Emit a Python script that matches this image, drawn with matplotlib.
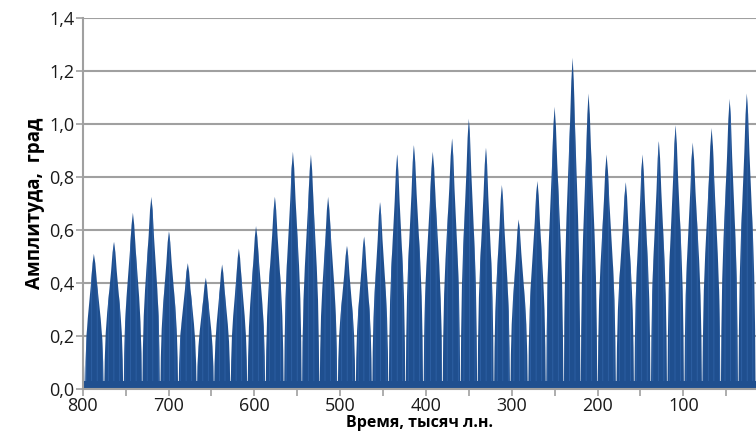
import numpy as np
import matplotlib
matplotlib.use('Agg')
from matplotlib import pyplot as plt
from matplotlib.ticker import MultipleLocator, FuncFormatter

# Peaks of the amplitude envelope (age in kyr BP, amplitude in deg)
peak_age = [808, 787, 763.5, 741.5, 720, 699.5, 677.5, 656.5, 637.5, 618, 598,
            576, 555, 534, 514, 492, 472, 453.5, 433.5, 414, 392, 369.5, 350,
            330, 311.5, 292, 270, 250, 229, 210.5, 189.5, 167, 147.5, 128.5,
            109, 89, 67, 46, 26, 5]
peak_amp = [0.40, 0.51, 0.555, 0.665, 0.725, 0.595, 0.475, 0.42, 0.47, 0.53, 0.615,
            0.725, 0.895, 0.885, 0.725, 0.54, 0.575, 0.705, 0.885, 0.92, 0.895,
            0.945, 1.02, 0.91, 0.77, 0.64, 0.785, 1.065, 1.25, 1.115, 0.885,
            0.78, 0.885, 0.935, 0.995, 0.93, 0.985, 1.095, 1.115, 1.0]
floor_level = 0.03

# shape of one lobe (fraction of half-width, fraction of peak height)
lobe_u = [0.0, 0.15, 0.3, 0.5, 0.7, 0.85, 0.95, 1.0]
lobe_f = [1.0, 0.93, 0.8, 0.66, 0.52, 0.38, 0.2, 0.0]

col = '#1f4f8f'
streak_col = '#2f62a6'
grid_col = '#a0a0a0'

plt.rcParams['font.family'] = ['Open Sans', 'DejaVu Sans']
plt.rcParams['hatch.linewidth'] = 0.6

fig = plt.figure(figsize=(7.56, 4.45), dpi=100)
ax = fig.add_axes([0.1094, 0.1258, 0.8906, 0.8338])

ages = np.array(peak_age)
for i, (a, h) in enumerate(zip(peak_age, peak_amp)):
    left = (ages[i - 1] - a) / 2 if i > 0 else 10.5
    right = (a - ages[i + 1]) / 2 if i < len(ages) - 1 else 10.5
    xs = [a + u * left * 0.97 for u in lobe_u[::-1]] + [a - u * right * 0.97 for u in lobe_u[1:]]
    ys = [h * f for f in lobe_f[::-1]] + [h * f for f in lobe_f[1:]]
    ax.fill(xs, ys, facecolor=col, edgecolor=streak_col, hatch='|||', lw=0, zorder=3)

ax.fill_between([830, -20], 0, floor_level, color=col, lw=0, zorder=3)

ax.set_xlim(800, 15.3)
ax.set_ylim(0, 1.4)
ax.xaxis.set_major_locator(MultipleLocator(100))
ax.xaxis.set_minor_locator(MultipleLocator(50))
ax.yaxis.set_major_locator(MultipleLocator(0.2))
ax.yaxis.set_major_formatter(FuncFormatter(lambda v, p: f'{v:.1f}'.replace('.', ',')))

ax.grid(axis='y', color=grid_col, lw=1.5)
ax.set_axisbelow(True)
for s in ['top', 'right']:
    ax.spines[s].set_visible(False)
for s in ['left', 'bottom']:
    ax.spines[s].set_color(grid_col)
    ax.spines[s].set_linewidth(1.5)
    ax.spines[s].set_zorder(4)
ax.tick_params(which='both', length=5, width=1.2, color=grid_col, labelsize=13,
               labelcolor='#1a1a1a', pad=1)

ax.set_ylabel('Амплитуда,  град', fontsize=13.5, fontweight='bold', labelpad=3)
ax.set_xlabel('Время, тысяч л.н.', fontsize=11.5, fontweight='bold', labelpad=0)

fig.savefig('out.png', dpi=100)
